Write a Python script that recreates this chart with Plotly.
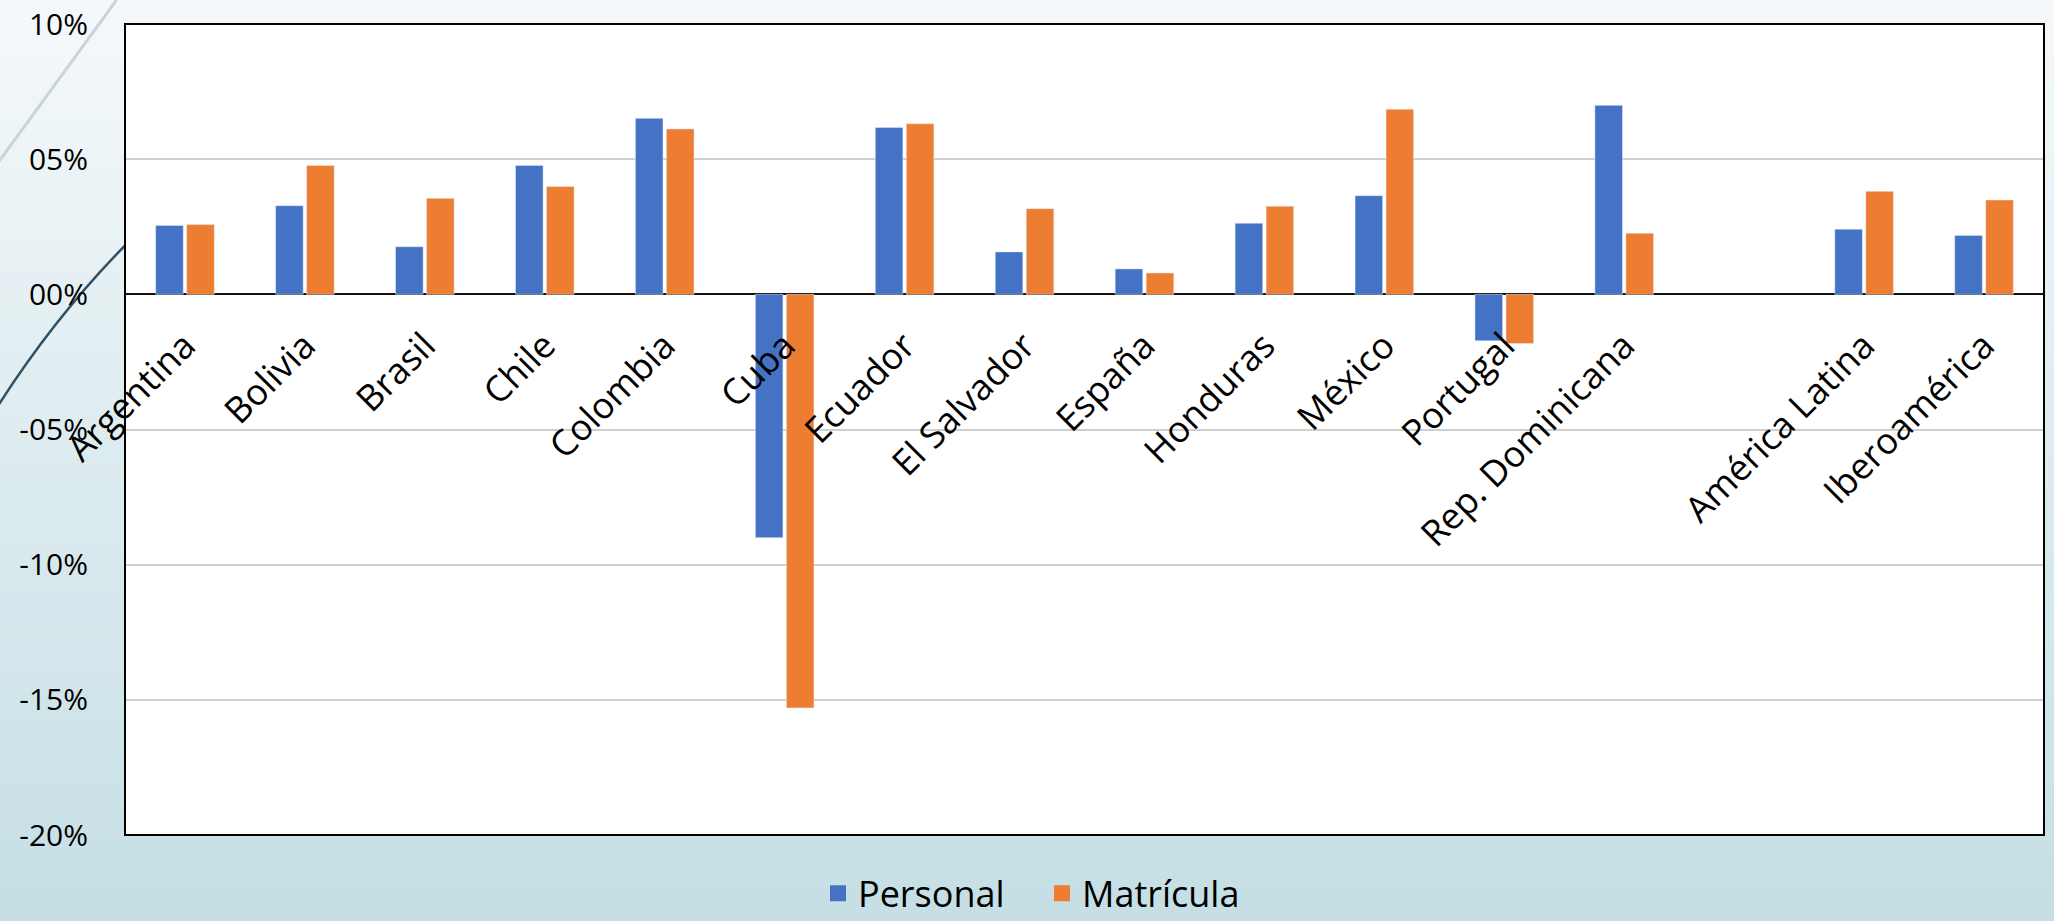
import plotly.graph_objects as go

# datos (variación, %)
paises = ["Argentina", "Bolivia", "Brasil", "Chile", "Colombia", "Cuba", "Ecuador",
          "El Salvador", "España", "Honduras", "México", "Portugal",
          "Rep. Dominicana", " ", "América Latina", "Iberoamérica"]
personal = [2.55, 3.28, 1.76, 4.77, 6.51, -9.0, 6.17, 1.57, 0.94, 2.63, 3.65, -1.72,
            6.99, None, 2.41, 2.18]
matricula = [2.58, 4.77, 3.55, 3.99, 6.12, -15.3, 6.31, 3.17, 0.79, 3.26, 6.85, -1.82,
             2.26, None, 3.81, 3.49]
ytick_vals = [10, 5, 0, -5, -10, -15, -20]
ytick_text = ["10%", "05%", "00%", "-05%", "-10%", "-15%", "-20%"]

azul = "#4472C4"
naranja = "#ED7D31"
W, H = 2054, 921

fig = go.Figure()
fig.add_trace(go.Bar(x=paises, y=personal, name="Personal", marker_color=azul,
                     showlegend=False))
fig.add_trace(go.Bar(x=paises, y=matricula, name="Matrícula", marker_color=naranja,
                     showlegend=False))
# entradas de leyenda con cuadrados más grandes
for nombre, color in [("Personal", azul), ("Matrícula", naranja)]:
    fig.add_trace(go.Scatter(x=[None], y=[None], mode="markers", name=nombre,
                             marker=dict(symbol="square", size=20, color=color)))

# fondo degradado (franjas) detrás del área de gráfico
shapes = []
n = 60
top = (245, 248, 250)
bot = (197, 223, 229)
ml, mr, mt, mb = 124.5, 10, 24, 86
pw, ph = W - ml - mr, H - mt - mb
for i in range(n):
    t = i / (n - 1)
    c = tuple(int(round(top[k] + (bot[k] - top[k]) * t)) for k in range(3))
    y1 = 1 + mt / ph - i * (H / ph) / n + 0.002
    y0 = y1 - (H / ph) / n - 0.004
    shapes.append(dict(type="rect", xref="paper", yref="paper",
                       x0=-ml / pw - 0.01, x1=1 + mr / pw + 0.01, y0=y0, y1=y1,
                       fillcolor="rgb(%d,%d,%d)" % c, line_width=0, layer="below"))


def px(xp, yp):
    return "%.4f %.4f" % ((xp - ml) / pw, 1 - (yp - mt) / ph)


# líneas decorativas a la izquierda
shapes.append(dict(type="path", xref="paper", yref="paper", layer="below",
                   path="M %s L %s" % (px(116, 0), px(-2, 162)),
                   line=dict(color="#c9d3d9", width=3)))
shapes.append(dict(type="path", xref="paper", yref="paper", layer="below",
                   path="M %s Q %s %s" % (px(140, 230), px(60, 308), px(-2, 405)),
                   line=dict(color="#2f5166", width=2.5)))
# área de gráfico blanca y su borde
shapes.append(dict(type="rect", xref="paper", yref="paper", x0=0, x1=1, y0=0, y1=1,
                   fillcolor="white", line_width=0, layer="below"))
shapes.append(dict(type="rect", xref="paper", yref="paper", x0=0, x1=1, y0=0, y1=1,
                   line=dict(color="black", width=2), layer="above"))

fig.update_layout(
    width=W, height=H,
    margin=dict(l=ml, r=mr, t=mt, b=mb, pad=0, autoexpand=False),
    paper_bgcolor="#dfeaee",
    plot_bgcolor="white",
    barmode="group",
    bargap=0.483,
    bargroupgap=0.11,
    shapes=shapes,
    font=dict(family="Open Sans, Noto Sans, sans-serif", color="black"),
    legend=dict(orientation="h", x=818 / W, xref="container", xanchor="left",
                y=0.03, yref="container", yanchor="middle", font=dict(size=36),
                itemwidth=30, entrywidth=179, traceorder="normal",
                bgcolor="rgba(0,0,0,0)"),
)
fig.update_yaxes(range=[-20, 10], tickvals=ytick_vals, ticktext=ytick_text,
                 tickfont=dict(size=30), showgrid=True, gridcolor="#cfcfcf", gridwidth=1.5,
                 zeroline=True, zerolinecolor="#111111", zerolinewidth=2,
                 showline=False, ticks="", ticklabelstandoff=36)
fig.update_xaxes(type="category", anchor="free", position=2 / 3, showline=False,
                 ticks="", tickangle=-45, tickfont=dict(size=36), showgrid=False,
                 ticklabelstandoff=22)

fig.write_html("out.html", config={"displayModeBar": False}, post_script=(
    "document.body.style.margin='0px';document.body.style.padding='0px';"
    "document.body.style.overflow='hidden';"))
